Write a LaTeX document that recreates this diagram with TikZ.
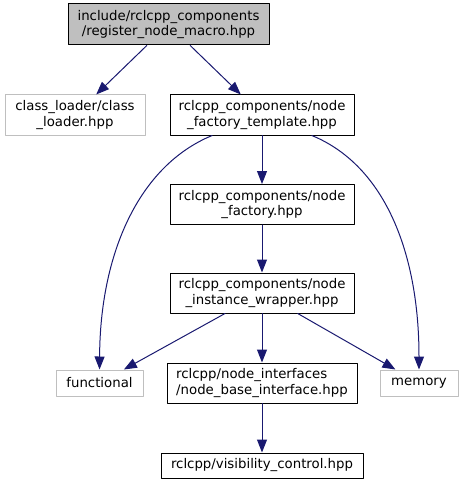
\documentclass[tikz,border=0pt]{standalone}
\usepackage{fontspec}
\setmainfont{DejaVu Sans}
\usetikzlibrary{arrows.meta}

\definecolor{edgeblue}{HTML}{191970}
\definecolor{grey75}{HTML}{BFBFBF}

\tikzset{
  hdr/.style={draw=black, line width=1pt, inner sep=0pt, align=center,
              font=\fontsize{13.3}{15.5}\selectfont},
  ext/.style={hdr, draw=grey75},
  root/.style={hdr, fill=grey75},
  dep/.style={-{Triangle[length=13pt, width=10pt]}, draw=edgeblue,
              line width=1pt}
}

\begin{document}
\begin{tikzpicture}[x=1pt, y=-1pt, line cap=round, line join=round]
  \useasboundingbox (0,0) rectangle (463,484);

  % Include graph of register_node_macro.hpp
  \node[root, minimum width=201pt, minimum height=41pt] (macro) at (168.5,24.5)
    {include/rclcpp\_components\\/register\_node\_macro.hpp};

  % Second row
  \node[ext, minimum width=140pt, minimum height=40pt] (loader) at (75,115)
    {class\_loader/class\\\_loader.hpp};
  \node[hdr, minimum width=184pt, minimum height=40pt] (tmpl) at (262,115)
    {rclcpp\_components/node\\\_factory\_template.hpp};

  % Middle column
  \node[hdr, minimum width=184pt, minimum height=40pt] (factory) at (262,204.5)
    {rclcpp\_components/node\\\_factory.hpp};
  \node[hdr, minimum width=184pt, minimum height=40pt] (wrapper) at (262,293)
    {rclcpp\_components/node\\\_instance\_wrapper.hpp};

  % Bottom row
  \node[ext, minimum width=87pt, minimum height=26pt] (functional) at (99.5,383)
    {functional};
  \node[hdr, minimum width=190pt, minimum height=40pt, align=left] (base) at (262,383)
    {rclcpp/node\_interfaces\\/node\_base\_interface.hpp};
  \node[ext, minimum width=78pt, minimum height=26pt] (memory) at (419,383)
    {memory};
  \node[hdr, minimum width=202pt, minimum height=25pt] (visibility) at (262,465.5)
    {rclcpp/visibility\_control.hpp};

  % Dependencies
  \draw[dep] (macro) -- (loader);
  \draw[dep] (macro) -- (tmpl);
  \draw[dep] (tmpl) .. controls (138,166) and (100,255) .. (functional);
  \draw[dep] (tmpl) -- (factory);
  \draw[dep] (tmpl) .. controls (386,166) and (419,255) .. (memory);
  \draw[dep] (factory) -- (wrapper);
  \draw[dep] (wrapper) -- (functional);
  \draw[dep] (wrapper) -- (base);
  \draw[dep] (wrapper) -- (memory);
  \draw[dep] (base) -- (visibility);
\end{tikzpicture}
\end{document}
